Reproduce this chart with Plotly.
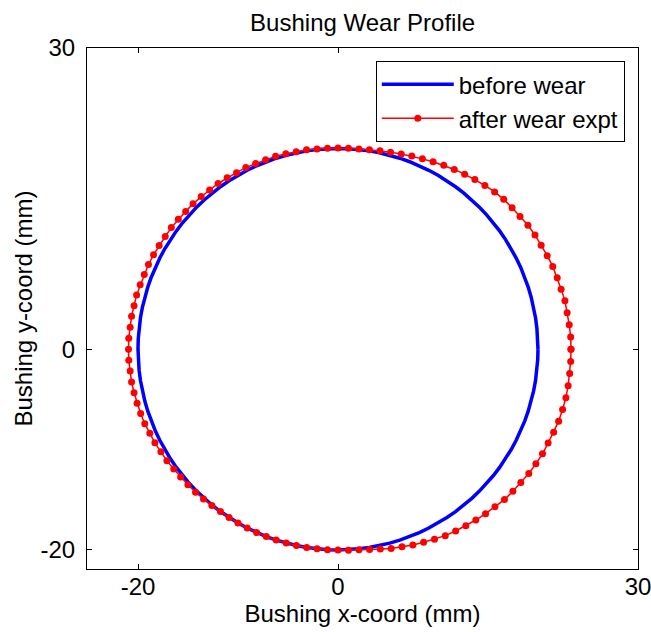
import numpy as np
import plotly.graph_objects as go

# Angular positions of the measurement points (degrees, counter-clockwise from +x)
angles_deg = [
    0, 3, 6, 9, 12, 15, 18, 21, 24, 27, 30, 33, 36, 39, 42, 45, 48, 51, 54, 57,
    60, 63, 66, 69, 72, 75, 78, 81, 84, 87, 90, 93, 96, 99, 102, 105, 108, 111, 114, 117,
    120, 123, 126, 129, 132, 135, 138, 141, 144, 147, 150, 153, 156, 159, 162, 165, 168, 171, 174, 177,
    180, 183, 186, 189, 192, 195, 198, 201, 204, 207, 210, 213, 216, 219, 222, 225, 228, 231, 234, 237,
    240, 243, 246, 249, 252, 255, 258, 261, 264, 267, 270, 273, 276, 279, 282, 285, 288, 291, 294, 297,
    300, 303, 306, 309, 312, 315, 318, 321, 324, 327, 330, 333, 336, 339, 342, 345, 348, 351, 354, 357,
]

# Bushing radius before wear (mm)
radius_before = [
    20.0, 20.0, 20.0, 20.0, 20.0, 20.0, 20.0, 20.0, 20.0, 20.0, 20.0, 20.0, 20.0, 20.0, 20.0, 20.0, 20.0, 20.0, 20.0, 20.0,
    20.0, 20.0, 20.0, 20.0, 20.0, 20.0, 20.0, 20.0, 20.0, 20.0, 20.0, 20.0, 20.0, 20.0, 20.0, 20.0, 20.0, 20.0, 20.0, 20.0,
    20.0, 20.0, 20.0, 20.0, 20.0, 20.0, 20.0, 20.0, 20.0, 20.0, 20.0, 20.0, 20.0, 20.0, 20.0, 20.0, 20.0, 20.0, 20.0, 20.0,
    20.0, 20.0, 20.0, 20.0, 20.0, 20.0, 20.0, 20.0, 20.0, 20.0, 20.0, 20.0, 20.0, 20.0, 20.0, 20.0, 20.0, 20.0, 20.0, 20.0,
    20.0, 20.0, 20.0, 20.0, 20.0, 20.0, 20.0, 20.0, 20.0, 20.0, 20.0, 20.0, 20.0, 20.0, 20.0, 20.0, 20.0, 20.0, 20.0, 20.0,
    20.0, 20.0, 20.0, 20.0, 20.0, 20.0, 20.0, 20.0, 20.0, 20.0, 20.0, 20.0, 20.0, 20.0, 20.0, 20.0, 20.0, 20.0, 20.0, 20.0,
]

# Bushing radius after wear, experiment (mm)
radius_after = [
    23.30, 23.30, 23.25, 23.20, 23.20, 23.10, 23.05, 23.00, 22.90, 22.80, 22.75, 22.65, 22.50, 22.40, 22.30, 22.15, 21.95, 21.75, 21.55, 21.35,
    21.15, 20.95, 20.75, 20.60, 20.45, 20.30, 20.20, 20.10, 20.05, 20.05, 20.05, 20.05, 20.05, 20.10, 20.10, 20.15, 20.20, 20.20, 20.25, 20.30,
    20.30, 20.35, 20.40, 20.40, 20.45, 20.50, 20.50, 20.55, 20.60, 20.60, 20.65, 20.70, 20.75, 20.75, 20.80, 20.85, 20.85, 20.90, 20.90, 20.95,
    20.95, 20.95, 20.90, 20.90, 20.85, 20.80, 20.75, 20.70, 20.60, 20.55, 20.45, 20.40, 20.30, 20.25, 20.20, 20.15, 20.10, 20.05, 20.00, 20.00,
    20.00, 20.00, 20.00, 20.00, 20.00, 20.00, 20.00, 20.00, 20.00, 20.00, 20.00, 20.05, 20.10, 20.20, 20.35, 20.55, 20.70, 20.90, 21.05, 21.25,
    21.45, 21.60, 21.75, 21.90, 22.05, 22.20, 22.40, 22.50, 22.60, 22.75, 22.85, 22.95, 23.00, 23.10, 23.20, 23.25, 23.30, 23.30, 23.30, 23.30,
]

title_text = "Bushing Wear Profile"
x_label = "Bushing x-coord (mm)"
y_label = "Bushing y-coord (mm)"
x_ticks = [-20, 0, 30]
x_tick_text = ["-20", "0", "30"]
y_ticks = [-20, 0, 30]
y_tick_text = ["-20", "0", "30"]


def to_xy(ang, rad):
    a = np.deg2rad(np.array(list(ang) + [ang[0]], dtype=float))
    r = np.array(list(rad) + [rad[0]], dtype=float)
    return r * np.cos(a), r * np.sin(a)


xb, yb = to_xy(angles_deg, radius_before)
xa, ya = to_xy(angles_deg, radius_after)

FONT = "Liberation Sans, Arial, Helvetica, sans-serif"

fig = go.Figure()
fig.add_trace(go.Scatter(
    x=xb, y=yb, mode="lines", name="before wear",
    line=dict(color="#0000ff", width=3.5),
))
fig.add_trace(go.Scatter(
    x=xa, y=ya, mode="lines+markers", name="after wear expt",
    line=dict(color="#ff0000", width=1.5),
    marker=dict(color="#ff0000", size=7),
))

axis_common = dict(
    showgrid=False, zeroline=False, showline=True, linecolor="black", linewidth=1,
    mirror="ticks", ticks="inside", ticklen=5, tickcolor="black",
    tickfont=dict(family=FONT, size=24, color="black"),
    ticklabeloverflow="allow",
)

fig.update_layout(
    width=651, height=632,
    margin=dict(l=87, r=13, t=48, b=63, autoexpand=False),
    paper_bgcolor="white", plot_bgcolor="white",
    title=dict(text=title_text, x=0.557, xanchor="center", y=0.965, yanchor="middle",
               font=dict(family=FONT, size=24, color="black")),
    xaxis=dict(range=[-25.1, 30.001], tickvals=x_ticks, ticktext=x_tick_text, automargin=False,
               ticklabelstandoff=-4,
               title=dict(text=x_label, standoff=6, font=dict(family=FONT, size=24, color="black")),
               **axis_common),
    yaxis=dict(range=[-21.9, 30.001], tickvals=y_ticks, ticktext=y_tick_text, automargin=False,
               ticklabelstandoff=6,
               title=dict(text=y_label, standoff=1, font=dict(family=FONT, size=24, color="black")),
               **axis_common),
    legend=dict(x=0.976, y=0.975, xanchor="right", yanchor="top",
                bordercolor="black", borderwidth=1, bgcolor="white",
                font=dict(family=FONT, size=24, color="black"),
                itemwidth=72, tracegroupgap=0),
    showlegend=True,
)

fig.write_html(
    "out.html",
    config={"displayModeBar": False},
    post_script="document.body.style.margin='0';document.body.style.overflow='hidden';",
)
